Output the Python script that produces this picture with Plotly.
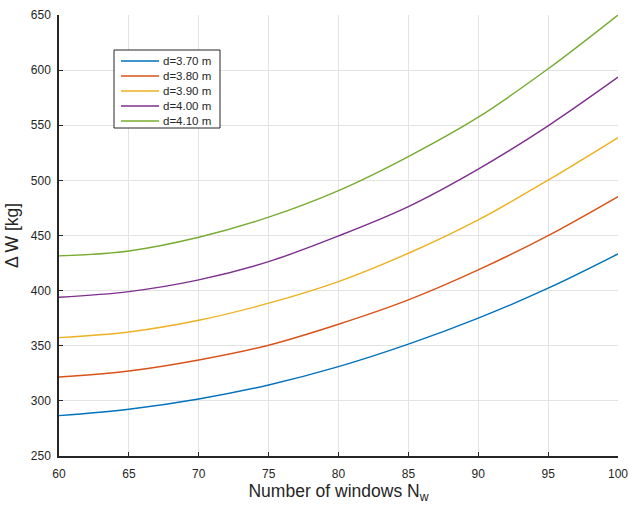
import plotly.graph_objects as go

# Number of windows N_w
n_windows = [60, 65, 70, 75, 80, 85, 90, 95, 100]

# Mass increase ΔW [kg] for each window spacing d
dw_370 = [286.6, 292.4, 301.7, 314.4, 331.0, 351.4, 375.0, 402.2, 433.3]
dw_380 = [321.7, 327.1, 337.1, 350.5, 369.5, 391.6, 418.8, 449.9, 485.3]
dw_390 = [357.4, 362.5, 373.1, 388.6, 408.2, 433.9, 464.2, 500.2, 538.8]
dw_400 = [394.0, 399.1, 409.7, 426.3, 449.6, 476.2, 510.2, 549.5, 593.6]
dw_410 = [431.5, 436.0, 448.4, 466.6, 490.7, 521.6, 557.3, 601.2, 650.0]

series_names = ["d=3.70 m", "d=3.80 m", "d=3.90 m", "d=4.00 m", "d=4.10 m"]
series_values = [dw_370, dw_380, dw_390, dw_400, dw_410]
series_colors = ["#0072BD", "#D95319", "#EDB120", "#7E2F8E", "#77AC30"]

x_ticks = [60, 65, 70, 75, 80, 85, 90, 95, 100]
y_ticks = [250, 300, 350, 400, 450, 500, 550, 600, 650]

W, H = 629, 505
M_L, M_R, M_T, M_B = 59, 11, 15, 49
plot_w = W - M_L - M_R
plot_h = H - M_T - M_B


def px_x(px):
    """Pixel column -> paper x fraction."""
    return (px - M_L) / plot_w


def px_y(py):
    """Pixel row -> paper y fraction."""
    return (H - M_B - py) / plot_h


fig = go.Figure()
for name, vals, col in zip(series_names, series_values, series_colors):
    fig.add_trace(go.Scatter(
        x=n_windows, y=vals, name=name, mode="lines",
        line=dict(color=col, width=1.4, shape="spline", smoothing=1.0),
        showlegend=False,
    ))

font_family = "Liberation Sans, Arial, sans-serif"
ink = "#262626"
axis_common = dict(
    showgrid=True, gridcolor="#e3e3e3", gridwidth=1,
    showline=True, linecolor=ink, linewidth=1.5,
    ticks="inside", ticklen=4, tickcolor=ink,
    tickfont=dict(family=font_family, size=12, color=ink),
    zeroline=False, mirror=False, automargin=False,
)

# Compact boxed legend in the upper-left corner of the axes
shapes = [dict(
    type="rect", xref="paper", yref="paper",
    x0=px_x(114), x1=px_x(220), y0=px_y(128), y1=px_y(50),
    line=dict(color=ink, width=1), fillcolor="white", layer="above",
)]
annotations = []
row_top, row_step = 61, 15
for i, (name, col) in enumerate(zip(series_names, series_colors)):
    yy = px_y(row_top + row_step * i)
    shapes.append(dict(
        type="line", xref="paper", yref="paper",
        x0=px_x(121), x1=px_x(159), y0=yy, y1=yy,
        line=dict(color=col, width=1.5), layer="above",
    ))
    annotations.append(dict(
        xref="paper", yref="paper", x=px_x(161), y=yy,
        xanchor="left", yanchor="middle", text=name, showarrow=False,
        font=dict(family=font_family, size=11.5, color=ink),
    ))

fig.update_layout(
    width=W, height=H,
    margin=dict(l=M_L, r=M_R, t=M_T, b=M_B),
    paper_bgcolor="white", plot_bgcolor="white",
    font=dict(family=font_family, color=ink),
    xaxis=dict(
        range=[60, 100], tickvals=x_ticks, ticklabelstandoff=6,
        title=dict(text="Number of windows N<sub>w</sub>",
                   font=dict(size=17.5, family=font_family, color=ink),
                   standoff=5),
        **axis_common,
    ),
    yaxis=dict(
        range=[250, 650], tickvals=y_ticks, ticklabelstandoff=4,
        title=dict(text="Δ W [kg]",
                   font=dict(size=17.5, family=font_family, color=ink),
                   standoff=8),
        **axis_common,
    ),
    shapes=shapes,
    annotations=annotations,
    showlegend=False,
)

fig.write_html("out.html")
